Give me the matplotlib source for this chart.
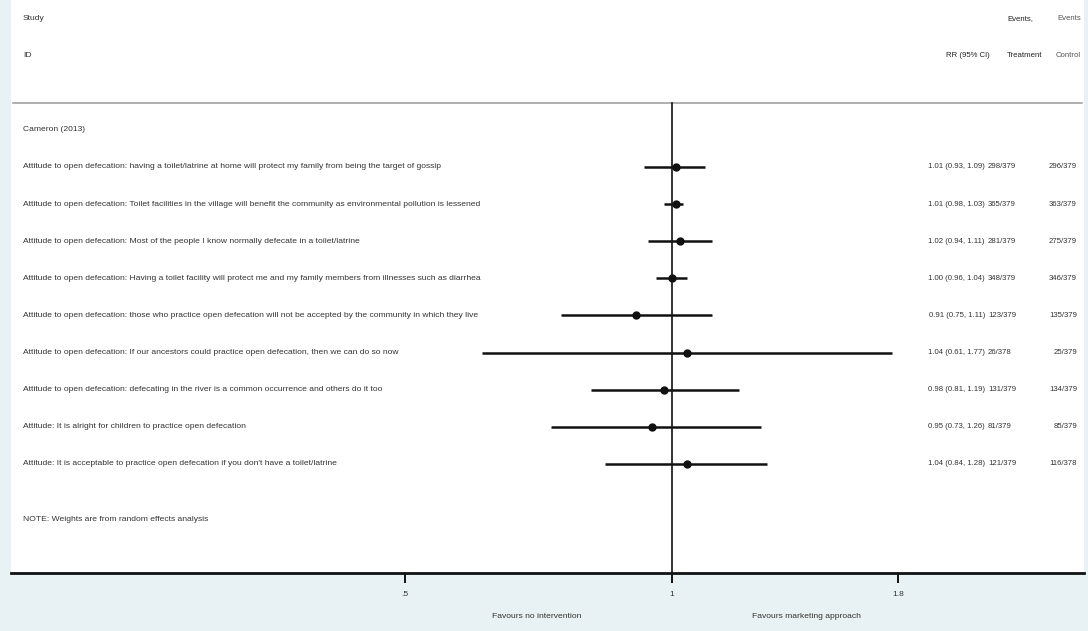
import numpy as np
import matplotlib
matplotlib.use("Agg")
import matplotlib.pyplot as plt
from matplotlib.transforms import blended_transform_factory

# ---------------- data ----------------
study = "Cameron (2013)"
labels = [
    "Attitude to open defecation: having a toilet/latrine at home will protect my family from being the target of gossip",
    "Attitude to open defecation: Toilet facilities in the village will benefit the community as environmental pollution is lessened",
    "Attitude to open defecation: Most of the people I know normally defecate in a toilet/latrine",
    "Attitude to open defecation: Having a toilet facility will protect me and my family members from illnesses such as diarrhea",
    "Attitude to open defecation: those who practice open defecation will not be accepted by the community in which they live",
    "Attitude to open defecation: If our ancestors could practice open defecation, then we can do so now",
    "Attitude to open defecation: defecating in the river is a common occurrence and others do it too",
    "Attitude: It is alright for children to practice open defecation",
    "Attitude: It is acceptable to practice open defecation if you don't have a toilet/latrine",
]
rr = [1.01, 1.01, 1.02, 1.00, 0.91, 1.04, 0.98, 0.95, 1.04]
ci_low = [0.93, 0.98, 0.94, 0.96, 0.75, 0.61, 0.81, 0.73, 0.84]
ci_high = [1.09, 1.03, 1.11, 1.04, 1.11, 1.77, 1.19, 1.26, 1.28]
events_treat = ["298/379", "365/379", "281/379", "348/379", "123/379", "26/378", "131/379", "81/379", "121/379"]
events_ctrl = ["296/379", "363/379", "275/379", "346/379", "135/379", "25/379", "134/379", "85/379", "116/378"]
xticks = [0.5, 1, 1.8]
xtick_labels = [".5", "1", "1.8"]
note = "NOTE: Weights are from random effects analysis"
fav_left = "Favours no intervention"
fav_right = "Favours marketing approach"

# ---------------- layout ----------------
W, H = 1088, 631
fig = plt.figure(figsize=(W / 100, H / 100), dpi=100)
fig.patch.set_facecolor("#e8f1f3")
plt.rcParams["font.family"] = ["Liberation Sans", "DejaVu Sans"]

ax_left, ax_right, ax_bottom_px = 11, 1084, 573
ax = fig.add_axes([ax_left / W, (H - ax_bottom_px) / H, (ax_right - ax_left) / W, ax_bottom_px / H])
ax.set_facecolor("white")
ax.set_xscale("log")
ax.set_xlim(0.1796, 2.916)
row_px0, row_step = 167, 37.1
ax.set_ylim((ax_bottom_px - row_px0) / row_step, (0 - row_px0) / row_step)

for s in ["top", "left", "right"]:
    ax.spines[s].set_visible(False)
ax.spines["bottom"].set_linewidth(2.0)
ax.spines["bottom"].set_color("#111111")
ax.set_yticks([])
ax.set_xticks(xticks)
ax.set_xticklabels(xtick_labels)
ax.xaxis.set_minor_locator(matplotlib.ticker.NullLocator())
ax.tick_params(axis="x", length=7.5, width=1.4, color="#111111", pad=5.5, labelsize=6, labelcolor="#333333")

ypos = np.arange(len(rr))
tr = blended_transform_factory(fig.transFigure, ax.transData)
txt_color = "#333333"
fs = 6.1
fs_r = 5.6

# header
sep_row = (103 - row_px0) / row_step
ax.plot([13 / W, 1082 / W], [sep_row, sep_row], transform=tr, color="#9a9a9a", lw=1.1, clip_on=False)
ax.text(23 / W, -4, "Study", transform=tr, fontsize=fs, color=txt_color, va="center", ha="left")
ax.text(23 / W, -3, "ID", transform=tr, fontsize=fs, color=txt_color, va="center", ha="left")
ax.text(990 / W, -3, "RR (95% CI)", transform=tr, fontsize=fs_r, color="#222222", va="center", ha="right")
ax.text(1007 / W, -4, "Events,", transform=tr, fontsize=fs_r, color="#222222", va="center", ha="left")
ax.text(1007 / W, -3, "Treatment", transform=tr, fontsize=fs_r, color="#222222", va="center", ha="left")
ax.text(1081 / W, -4, "Events", transform=tr, fontsize=fs_r, color="#555555", va="center", ha="right")
ax.text(1081 / W, -3, "Control", transform=tr, fontsize=fs_r, color="#555555", va="center", ha="right")
ax.text(23 / W, -1, study, transform=tr, fontsize=fs, color=txt_color, va="center", ha="left")

# null line
ax.plot([1, 1], [sep_row, ax.get_ylim()[0]], color="#111111", lw=1.2, zorder=2)

# estimates
for i in range(len(rr)):
    ax.plot([ci_low[i], ci_high[i]], [ypos[i], ypos[i]], color="#111111", lw=1.8, solid_capstyle="butt", zorder=3)
    ax.plot([rr[i]], [ypos[i]], "o", color="#111111", ms=5, zorder=4)
    ax.text(23 / W, ypos[i], labels[i], transform=tr, fontsize=fs, color=txt_color, va="center", ha="left")
    ax.text(985 / W, ypos[i], f"{rr[i]:.2f} ({ci_low[i]:.2f}, {ci_high[i]:.2f})", transform=tr,
            fontsize=fs_r, color=txt_color, va="center", ha="right")
    ax.text(988 / W, ypos[i], events_treat[i], transform=tr, fontsize=fs_r, color=txt_color, va="center", ha="left")
    ax.text(1077 / W, ypos[i], events_ctrl[i], transform=tr, fontsize=fs_r, color=txt_color, va="center", ha="right")

ax.text(23 / W, len(rr) + 0.5, note, transform=tr, fontsize=fs, color=txt_color, va="center", ha="left")

# favours labels
fig.text(537 / W, 1 - 617 / H, fav_left, fontsize=fs, color=txt_color, ha="center", va="center")
fig.text(806 / W, 1 - 617 / H, fav_right, fontsize=fs, color=txt_color, ha="center", va="center")

fig.savefig("out.png", dpi=100, facecolor=fig.get_facecolor())
